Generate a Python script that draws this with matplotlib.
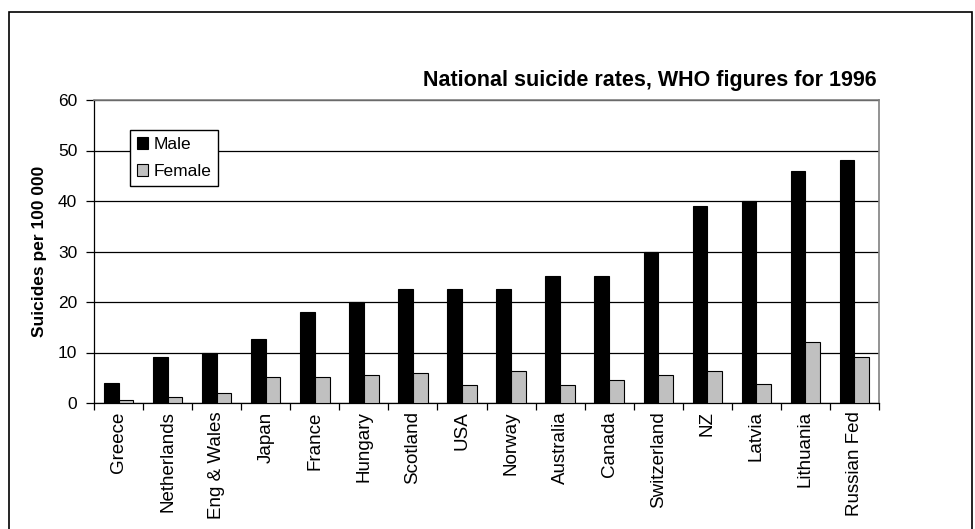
import numpy as np
import matplotlib
matplotlib.use('Agg')
import matplotlib.pyplot as plt
from matplotlib.patches import Rectangle

plt.rcParams['font.family'] = ['Liberation Sans', 'DejaVu Sans']

countries = ['Greece', 'Netherlands', 'Eng & Wales', 'Japan', 'France', 'Hungary',
             'Scotland', 'USA', 'Norway', 'Australia', 'Canada', 'Switzerland',
             'NZ', 'Latvia', 'Lithuania', 'Russian Fed']
male = [4.0, 9.2, 10.0, 12.7, 18.0, 20.0, 22.5, 22.5, 22.5, 25.2, 25.2, 30.0,
        39.0, 40.0, 46.0, 48.2]
female = [0.6, 1.1, 1.9, 5.1, 5.1, 5.6, 5.9, 3.5, 6.4, 3.5, 4.6, 5.6,
          6.4, 3.8, 12.0, 9.1]

W, H = 975, 529
fig = plt.figure(figsize=(W / 100, H / 100), dpi=100)

# outer chart border (bottom runs off the page)
fig.patches.append(Rectangle((9 / W, -0.05), (972 - 9) / W, 1 - 12 / H + 0.05,
                             transform=fig.transFigure, fill=False,
                             edgecolor='black', linewidth=1.2))

ax = fig.add_axes([94 / W, (H - 403) / H, (879 - 94) / W, (403 - 100) / H])

x = np.arange(len(countries))
bw = 0.3
ax.bar(x + 0.5 - bw / 2, male, width=bw, color='black', edgecolor='black',
       linewidth=0.8, label='Male', zorder=3)
ax.bar(x + 0.5 + bw / 2, female, width=bw, color='#c0c0c0', edgecolor='black',
       linewidth=0.8, label='Female', zorder=3)

ax.set_xlim(0, len(countries))
ax.set_ylim(0, 60)
ax.set_yticks(range(0, 61, 10))
ax.yaxis.grid(True, color='black', linewidth=0.9, zorder=0)

# ticks sit on the category boundaries, labels in the middle
ax.set_xticks(np.arange(len(countries) + 1))
ax.set_xticklabels([])
ax.set_xticks(x + 0.5, minor=True)
ax.set_xticklabels(countries, minor=True, rotation=90, fontsize=13.5, va='top')
ax.tick_params(axis='x', which='major', direction='out', length=5, width=0.9)
ax.tick_params(axis='x', which='minor', length=0, pad=6)
ax.tick_params(axis='y', direction='out', length=6, width=0.9, labelsize=12.5, pad=6)

for side in ['left', 'bottom']:
    ax.spines[side].set_color('black')
    ax.spines[side].set_linewidth(0.9)
for side in ['top', 'right']:
    ax.spines[side].set_color('#808080')
    ax.spines[side].set_linewidth(1.2)

ax.set_ylabel('Suicides per 100 000', fontsize=12.5, fontweight='bold')
ax.yaxis.set_label_coords((47 - 94) / (879 - 94), 0.5)

fig.text(877 / W, (H - 86) / H, 'National suicide rates, WHO figures for 1996',
         ha='right', va='baseline', fontsize=15.5, fontweight='bold')

leg = ax.legend(loc='upper left', bbox_to_anchor=((130 - 94) / (879 - 94), (403 - 130) / (403 - 100)),
                borderaxespad=0, fontsize=12.5, handlelength=0.65, handleheight=0.65,
                handletextpad=0.3, borderpad=0.4, labelspacing=0.7,
                fancybox=False, framealpha=1, edgecolor='black')
leg.get_frame().set_linewidth(1.0)

fig.savefig('out.png', dpi=100)
